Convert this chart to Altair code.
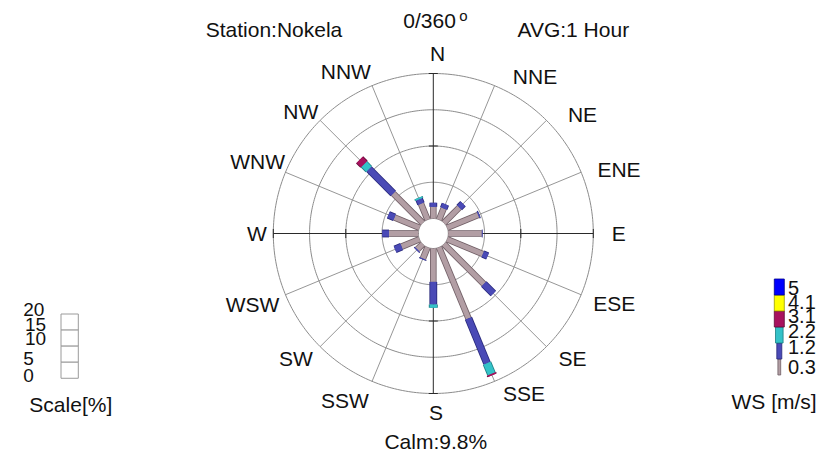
import altair as alt
import pandas as pd

# ---------------------------------------------------------------- data
DIRECTIONS = ["N", "NNE", "NE", "ENE", "E", "ESE", "SE", "SSE",
              "S", "SSW", "SW", "WSW", "W", "WNW", "NW", "NNW"]
BEARINGS = [i * 22.5 for i in range(16)]          # degrees clockwise from north

SPEED_LABELS = ["0.3", "1.2", "2.2", "3.1", "4.1", "5"]   # class lower bounds, m/s

# frequency of occurrence (%) per direction for each wind-speed class
FREQ_03_12 = [1.61, 1.66, 3.00, 4.62, 4.62, 5.32, 7.78, 10.60,
              4.60, 1.66, 1.03, 2.66, 4.04, 3.72, 5.74, 2.37]
FREQ_12_22 = [0.56, 0.63, 0.72, 0.18, 0.11, 0.72, 1.86, 6.70,
              3.12, 0.14, 0.16, 0.98, 0.93, 0.91, 4.76, 0.66]
FREQ_22_31 = [0, 0, 0, 0, 0, 0, 0, 1.60,
              0.45, 0, 0, 0, 0, 0, 0.95, 0.23]
FREQ_31_41 = [0, 0, 0, 0, 0, 0, 0, 0.20,
              0, 0, 0, 0, 0, 0, 0.85, 0]
FREQ_41_50 = [0] * 16
FREQ_50_UP = [0] * 16
CALM_PCT = 9.8

RING_PCT = [0, 5, 10, 15, 20]          # 0 = edge of the calm circle
AXIS_TICK_PCT = [10, 20]
SCALE_LABELS = ["0", "5", "10", "15", "20"]

# ---------------------------------------------------------------- style
COLORS = ["#b29ea4", "#4a4ab6", "#34c2c8", "#a8125e", "#ffff00", "#0000ff"]
OUTLINES = ["#6f5d64", "#27277a", "#1b7d82", "#5e0a36", "#9a9a00", "#00008c"]
FONT = "Liberation Sans"

W, H = 826, 458
CX, CY = 433.3, 233.5          # pixel position of the rose centre
PX_PER_PCT = 7.25              # radial pixels per 1 % of frequency
CALM_R_PX = 15.0
OFF = CALM_R_PX / PX_PER_PCT   # calm radius in % units


def ux(px):
    return (px - CX) / PX_PER_PCT


def uy(py):
    return (CY - py) / PX_PER_PCT


XS = alt.Scale(domain=[ux(0), ux(W)], nice=False, zero=False)
YS = alt.Scale(domain=[uy(H), uy(0)], nice=False, zero=False)


def X(f):
    return alt.X(f, type="quantitative", scale=XS, axis=None)


def Y(f):
    return alt.Y(f, type="quantitative", scale=YS, axis=None)


# ---------------------------------------------------------------- tables
series = [FREQ_03_12, FREQ_12_22, FREQ_22_31, FREQ_31_41, FREQ_41_50, FREQ_50_UP]
bar_rows = []
for k, vals in enumerate(series):
    for i, d in enumerate(DIRECTIONS):
        if vals[i] > 0:
            bar_rows.append({"dir": d, "bearing": BEARINGS[i], "k": k,
                             "cls": SPEED_LABELS[k], "pct": vals[i]})
bars_df = pd.DataFrame(bar_rows)

ring_df = pd.DataFrame([{"ring": r, "deg": a} for r in RING_PCT for a in range(0, 361)])
spoke_df = pd.DataFrame({"dir": DIRECTIONS, "bearing": BEARINGS,
                         "main": [i % 4 == 0 for i in range(16)]})
tick_df = pd.DataFrame([{"bearing": b, "pct": p}
                        for b in (0, 90, 180, 270) for p in AXIS_TICK_PCT])

# ---------------------------------------------------------------- rose grid
rings = alt.Chart(ring_df).transform_calculate(
    r=f"{OFF} + datum.ring"
).transform_calculate(
    x="datum.r * sin(datum.deg * PI / 180)",
    y="datum.r * cos(datum.deg * PI / 180)",
).mark_line(color="#8c8c8c", strokeWidth=1).encode(
    x=X("x"), y=Y("y"), detail="ring:N", order="deg:Q"
)


def spoke_base(df):
    return alt.Chart(df).transform_calculate(
        a="datum.bearing * PI / 180"
    ).transform_calculate(
        x0=f"{OFF} * sin(datum.a)", y0=f"{OFF} * cos(datum.a)",
        x1=f"({OFF} + {RING_PCT[-1]}) * sin(datum.a)",
        y1=f"({OFF} + {RING_PCT[-1]}) * cos(datum.a)",
    )


spokes = spoke_base(spoke_df[~spoke_df["main"]]).mark_rule(
    color="#8a8a8a", strokeWidth=0.9
).encode(x=X("x0"), y=Y("y0"), x2="x1:Q", y2="y1:Q")

axes = spoke_base(spoke_df[spoke_df["main"]]).mark_rule(
    color="#2a2a2a", strokeWidth=1
).encode(x=X("x0"), y=Y("y0"), x2="x1:Q", y2="y1:Q")

half_tick = 4.5 / PX_PER_PCT
ticks = alt.Chart(tick_df).transform_calculate(
    a="datum.bearing * PI / 180", r=f"{OFF} + datum.pct"
).transform_calculate(
    x0=f"datum.r * sin(datum.a) - {half_tick} * cos(datum.a)",
    y0=f"datum.r * cos(datum.a) + {half_tick} * sin(datum.a)",
    x1=f"datum.r * sin(datum.a) + {half_tick} * cos(datum.a)",
    y1=f"datum.r * cos(datum.a) - {half_tick} * sin(datum.a)",
).mark_rule(color="#2a2a2a", strokeWidth=1).encode(
    x=X("x0"), y=Y("y0"), x2="x1:Q", y2="y1:Q"
)

# ---------------------------------------------------------------- stacked petals
petal_base = alt.Chart(bars_df).transform_stack(
    stack="pct", groupby=["dir"], as_=["p0", "p1"],
    sort=[alt.SortField("k", order="ascending")],
).transform_calculate(
    a="datum.bearing * PI / 180"
).transform_calculate(
    x0=f"({OFF} + datum.p0) * sin(datum.a)",
    y0=f"({OFF} + datum.p0) * cos(datum.a)",
    x1=f"({OFF} + datum.p1) * sin(datum.a)",
    y1=f"({OFF} + datum.p1) * cos(datum.a)",
)

petal_edge = petal_base.mark_rule(strokeCap="butt").encode(
    x=X("x0"), y=Y("y0"), x2="x1:Q", y2="y1:Q",
    stroke=alt.Stroke("cls:N", scale=alt.Scale(domain=SPEED_LABELS, range=OUTLINES), legend=None),
    strokeWidth=alt.StrokeWidth("k:Q", scale=alt.Scale(domain=[0, 5], range=[6.6, 12.6]), legend=None),
)
petal_fill = petal_base.mark_rule(strokeCap="butt").encode(
    x=X("x0"), y=Y("y0"), x2="x1:Q", y2="y1:Q",
    color=alt.Color("cls:N", scale=alt.Scale(domain=SPEED_LABELS, range=COLORS), legend=None),
    strokeWidth=alt.StrokeWidth("k:Q", scale=alt.Scale(domain=[0, 5], range=[5, 11]), legend=None),
)

# ---------------------------------------------------------------- text helpers
def text_layer(rows, size, align="center"):
    df = pd.DataFrame(rows, columns=["label", "px", "py"])
    df["x"] = df["px"].map(ux)
    df["y"] = df["py"].map(uy)
    return alt.Chart(df).mark_text(
        font=FONT, fontSize=size, align=align, baseline="middle", color="#111111"
    ).encode(x=X("x"), y=Y("y"), text="label:N")


# direction label centres (px)
LABEL_XY = [(437.5, 54.7), (535, 77.5), (582.5, 115.8), (619, 171),
            (618.7, 235), (614.3, 305), (572.5, 360), (524, 395),
            (436, 414), (345, 401.7), (296, 360), (252.6, 305.5),
            (256.8, 235), (257.6, 163), (300.8, 113.3), (345.8, 72.5)]
dir_labels = text_layer([(d, x, y) for d, (x, y) in zip(DIRECTIONS, LABEL_XY)], 21)

titles = text_layer([
    ("Station:Nokela", 274, 31),
    ("0/360", 429.6, 21.7),
    ("AVG:1 Hour", 573.3, 31),
    (f"Calm:{CALM_PCT}%", 435.8, 443),
    ("Scale[%]", 70.8, 405.5),
], 21)
ws_title = text_layer([("WS [m/s]", 816.7, 402.5)], 21, align="right")
degree_o = text_layer([("o", 463.5, 15.5)], 15)

# ---------------------------------------------------------------- wind-speed legend
LEG_TOP, LEG_STEP, LEG_CX = 279.0, 16.0, 779.3
LEG_HALF_W = [1.4, 2.5, 3.8, 5.0, 5.0, 5.0]
leg_rows = []
for k, lab in enumerate(SPEED_LABELS):
    slot = len(SPEED_LABELS) - 1 - k
    leg_rows.append({"cls": lab,
                     "x0": ux(LEG_CX - LEG_HALF_W[k]), "x1": ux(LEG_CX + LEG_HALF_W[k]),
                     "y0": uy(LEG_TOP + slot * LEG_STEP), "y1": uy(LEG_TOP + (slot + 1) * LEG_STEP)})
legend_swatches = alt.Chart(pd.DataFrame(leg_rows)).mark_rect(strokeWidth=0.8).encode(
    x=X("x0"), x2="x1:Q", y=Y("y0"), y2="y1:Q",
    fill=alt.Fill("cls:N", scale=alt.Scale(domain=SPEED_LABELS, range=COLORS), legend=None),
    stroke=alt.Stroke("cls:N", scale=alt.Scale(domain=SPEED_LABELS, range=OUTLINES), legend=None),
)
LEG_LABEL_Y = [368.3, 348.3, 331.7, 316.7, 303.3, 289.0]
legend_labels = text_layer([(lab, 788, y) for lab, y in zip(SPEED_LABELS, LEG_LABEL_Y)],
                           20, align="left")

# ---------------------------------------------------------------- frequency scale box
SC_X0, SC_X1, SC_TOP, SC_STEP = 61.0, 78.3, 314.0, 16.07
box_rows = [{"x0": ux(SC_X0), "x1": ux(SC_X1),
             "y0": uy(SC_TOP + i * SC_STEP), "y1": uy(SC_TOP + (i + 1) * SC_STEP)}
            for i in range(len(RING_PCT) - 1)]
scale_boxes = alt.Chart(pd.DataFrame(box_rows)).mark_rect(
    fill="white", stroke="#9a9a9a", strokeWidth=1
).encode(x=X("x0"), x2="x1:Q", y=Y("y0"), y2="y1:Q")
SCALE_LABEL_XY = [(23.3, 375.5), (23.3, 359), (25, 339), (25, 325), (23.3, 310)]
scale_labels = text_layer([(lab, x, y) for lab, (x, y) in zip(SCALE_LABELS, SCALE_LABEL_XY)],
                          19, align="left")

# ---------------------------------------------------------------- assemble
chart = alt.layer(
    rings, spokes, axes, ticks, petal_edge, petal_fill,
    dir_labels, titles, ws_title, degree_o,
    legend_swatches, legend_labels, scale_boxes, scale_labels,
).resolve_scale(
    strokeWidth="independent", stroke="independent", color="independent", fill="independent"
).properties(
    width=W, height=H, padding=0, autosize=alt.AutoSizeParams(type="none"),
    background="white",
).configure_view(stroke=None)

chart.save("out.html", embed_options={"renderer": "svg", "actions": False})
